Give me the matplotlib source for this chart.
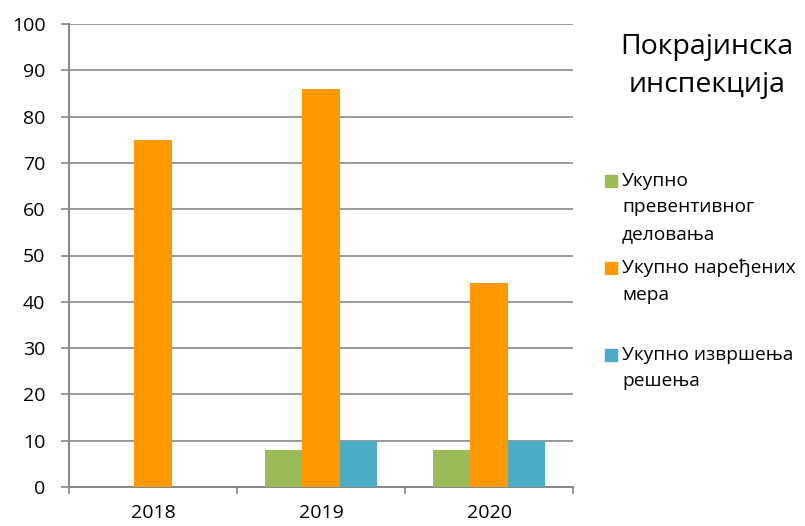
import matplotlib
matplotlib.use("Agg")
import matplotlib.pyplot as plt
from matplotlib.patches import Rectangle
import numpy as np

plt.rcParams['font.family'] = ['Open Sans', 'DejaVu Sans']

# data
years = ["2018", "2019", "2020"]
series_labels = [
    "Укупно\nпревентивног\nделовања",
    "Укупно наређених\nмера",
    "Укупно извршења\nрешења",
]
preventive = [0, 8, 8]
ordered = [75, 86, 44]
executed = [0, 10, 10]
colors = ["#9BBB59", "#FF9900", "#4BACC6"]
title = "Покрајинска\nинспекција"

W, H = 805, 526
fig = plt.figure(figsize=(W / 100, H / 100), dpi=100)
ax = fig.add_axes([69 / W, 39 / H, (573 - 69) / W, (487 - 24) / H])

x = np.arange(len(years))
width = 0.222
for k, vals in enumerate([preventive, ordered, executed]):
    ax.bar(x + (k - 1) * width, vals, width, color=colors[k], zorder=3)

grid_col = "#868686"
ax.set_xlim(-0.5, 2.5)
ax.set_ylim(0, 100)
ax.set_yticks(np.arange(0, 101, 10))
ax.yaxis.grid(True, color=grid_col, linewidth=1.2, zorder=0)

# category boundaries get tick marks, labels sit in the middle
ax.set_xticks(np.arange(-0.5, 3, 1))
ax.set_xticklabels([])
ax.set_xticks(x, minor=True)
ax.set_xticklabels(years, minor=True)
ax.tick_params(axis="x", which="minor", length=0, pad=12, labelsize=14)
ax.tick_params(axis="x", which="major", length=5, width=1.2, color=grid_col)
ax.tick_params(axis="y", length=6, width=1.2, color=grid_col, pad=11, labelsize=14)

for side in ["top", "right"]:
    ax.spines[side].set_visible(False)
for side in ["left", "bottom"]:
    ax.spines[side].set_color(grid_col)
    ax.spines[side].set_linewidth(1.4)

# title at the right side
fig.text(707 / W, 1 - 66 / H, title, ha="center", va="center",
         fontsize=20.5, linespacing=1.45)

# legend drawn by hand, entries evenly spaced
for i, (label, c) in enumerate(zip(series_labels, colors)):
    y_top = 175 + 87 * i
    fig.patches.append(Rectangle((605 / W, 1 - (y_top + 12) / H), 12 / W, 12 / H,
                                 transform=fig.transFigure, color=c))
    fig.text(622 / W, 1 - (y_top - 3) / H, label, ha="left", va="top",
             fontsize=13.8, linespacing=1.6)

fig.savefig("out.png", dpi=100)
